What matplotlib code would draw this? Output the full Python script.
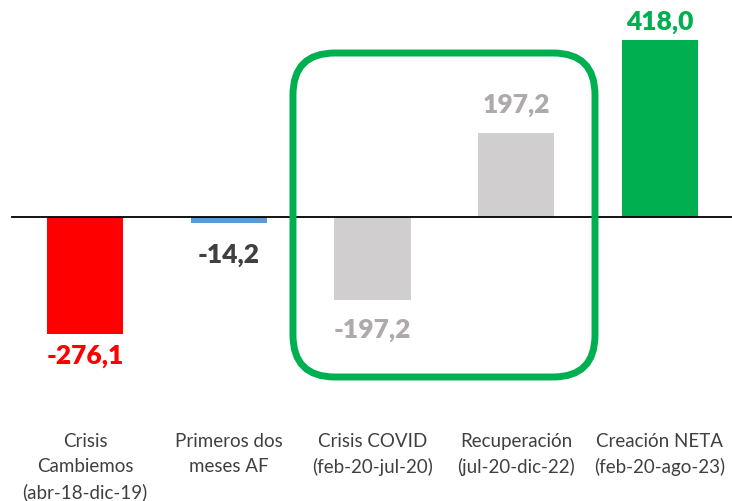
import matplotlib
matplotlib.use("Agg")
import matplotlib.pyplot as plt
from matplotlib.patches import FancyBboxPatch

categorias = ["Crisis\nCambiemos\n(abr-18-dic-19)", "Primeros dos\nmeses AF",
              "Crisis COVID\n(feb-20-jul-20)", "Recuperación\n(jul-20-dic-22)",
              "Creación NETA\n(feb-20-ago-23)"]
valores = [-276.1, -14.2, -197.2, 197.2, 418.0]
etiquetas = ["-276,1", "-14,2", "-197,2", "197,2", "418,0"]
colores = ["#FF0000", "#5B9BD5", "#D0CECE", "#D0CECE", "#00B050"]
colores_txt = ["#FF0000", "#404040", "#AEAAAA", "#AEAAAA", "#00B050"]
offsets = [-22, -32, -30, 28, 18]

plt.rcParams['font.family'] = ['Lato', 'DejaVu Sans']

fig = plt.figure(figsize=(7.32, 5.01), dpi=100)
ax = fig.add_axes([0, 0, 1, 1])
ax.set_xlim(-0.591, 4.501)
ax.set_ylim(-670.8, 512.5)
ax.axis('off')

x = list(range(len(valores)))
ax.bar(x, valores, width=0.53, color=colores, zorder=2)
ax.axhline(0, xmin=12 / 732, xmax=1, color="black", lw=1.3, zorder=3)

for i, v in enumerate(valores):
    # etiqueta de dato por encima / debajo de la barra
    ax.annotate(etiquetas[i], (i, v), xytext=(0, offsets[i]), textcoords="offset pixels",
                ha="center", va="center", fontsize=19, fontweight="heavy", color=colores_txt[i])
    ax.text(i, 0.136, categorias[i], transform=ax.get_xaxis_transform(), ha="center", va="top",
            fontsize=13.5, color="#404040", linespacing=1.56)

# recuadro verde redondeado alrededor de COVID y recuperación
fig.canvas.draw()
(x0, y0) = ax.transData.transform((1.447, -377.9))
(x1, y1) = ax.transData.transform((3.548, 387.3))
caja = FancyBboxPatch((x0, y0), x1 - x0, y1 - y0, boxstyle="round,pad=0,rounding_size=42",
                      transform=None, fill=False, edgecolor="#00B050", lw=5, zorder=4)
fig.patches.append(caja)

fig.savefig("out.png", dpi=100)
